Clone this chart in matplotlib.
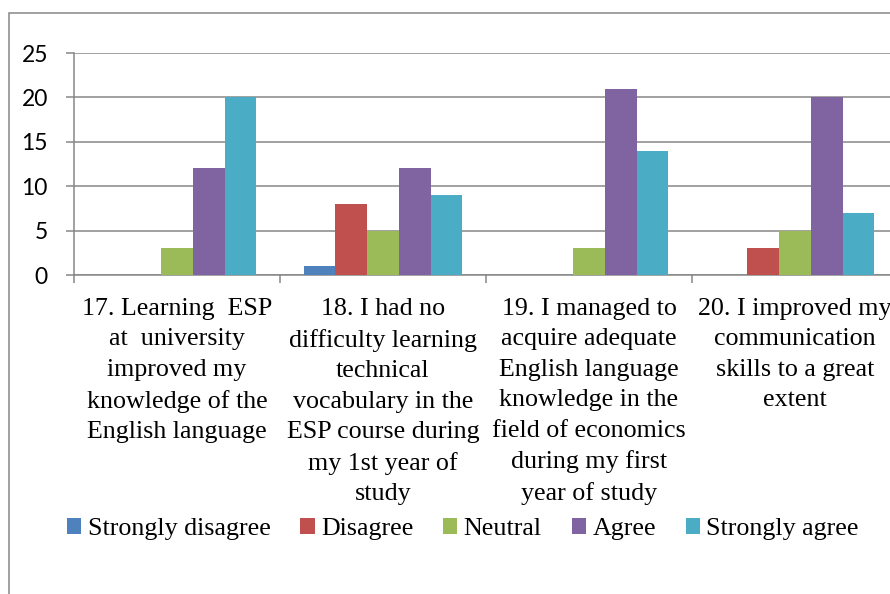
import numpy as np
import matplotlib.pyplot as plt
from matplotlib.patches import Rectangle

# ── DATA ──────────────────────────────────────────────────────────────────────
categories = [
    "17. Learning  ESP\nat  university\nimproved my\nknowledge of the\nEnglish language",
    "18. I had no\ndifficulty learning\ntechnical\nvocabulary in the\nESP course during\nmy 1st year of\nstudy",
    "19. I managed to\nacquire adequate\nEnglish language\nknowledge in the\nfield of economics\nduring my first\nyear of study",
    "20. I improved my\ncommunication\nskills to a great\nextent",
]
series_names = ["Strongly disagree", "Disagree", "Neutral", "Agree", "Strongly agree"]
strongly_disagree = [0, 1, 0, 0]
disagree = [0, 8, 0, 3]
neutral = [3, 5, 3, 5]
agree = [12, 12, 21, 20]
strongly_agree = [20, 9, 14, 7]
y_ticks = [0, 5, 10, 15, 20, 25]

colors = ["#4F81BD", "#C0504D", "#9BBB59", "#8064A2", "#4BACC6"]
GRID = "#878787"
SERIF = "Liberation Serif"

# ── PLOT ──────────────────────────────────────────────────────────────────────
W, H = 890, 594
fig = plt.figure(figsize=(W / 100, H / 100), dpi=100)
ax = fig.add_axes([74 / W, 1 - 275 / H, 824 / W, 222 / H])

values = [strongly_disagree, disagree, neutral, agree, strongly_agree]
n = len(series_names)
bw = 1 / (n + 1.5)
centers = np.arange(len(categories)) + 0.5
handles = []
for i, (name, vals) in enumerate(zip(series_names, values)):
    b = ax.bar(centers + (i - (n - 1) / 2) * bw, vals, width=bw,
               color=colors[i], edgecolor="none", label=name, zorder=3)
    handles.append(b)

ax.set_xlim(0, len(categories))
ax.set_ylim(0, 25)
ax.set_yticks(y_ticks)
ax.set_yticklabels([str(t) for t in y_ticks], family="Lato", fontsize=16.5)
ax.yaxis.grid(True, color=GRID, linewidth=1.1, zorder=0)
ax.tick_params(axis="y", length=5.8, width=1.1, color=GRID, pad=13)

# group boundaries as major ticks, category labels as minor ticks
ax.set_xticks(np.arange(len(categories) + 1))
ax.set_xticklabels([])
ax.set_xticks(centers, minor=True)
ax.set_xticklabels(categories, minor=True, family=SERIF, fontsize=18.7,
                   linespacing=1.495, va="top")
ax.tick_params(axis="x", which="major", length=5.8, width=1.1, color=GRID)
ax.tick_params(axis="x", which="minor", length=0, pad=16.5)

for s in ["top", "right"]:
    ax.spines[s].set_visible(False)
for s in ["left", "bottom"]:
    ax.spines[s].set_color(GRID)
    ax.spines[s].set_linewidth(1.1)

# chart border (cropped on right and bottom in the original)
fig.add_artist(Rectangle((9 / W, -0.05), 1.1, 1 - 13 / H + 0.05,
                         transform=fig.transFigure, fill=False,
                         edgecolor=GRID, linewidth=1.1))

fig.legend(handles=handles, labels=series_names, loc="center",
           bbox_to_anchor=(463 / W, 1 - 529 / H), ncol=5, frameon=False,
           prop={"family": SERIF, "size": 18.7},
           handlelength=0.54, handleheight=0.54, handletextpad=0.25,
           columnspacing=1.15, borderpad=0, borderaxespad=0)

fig.savefig("out.png", dpi=100)
